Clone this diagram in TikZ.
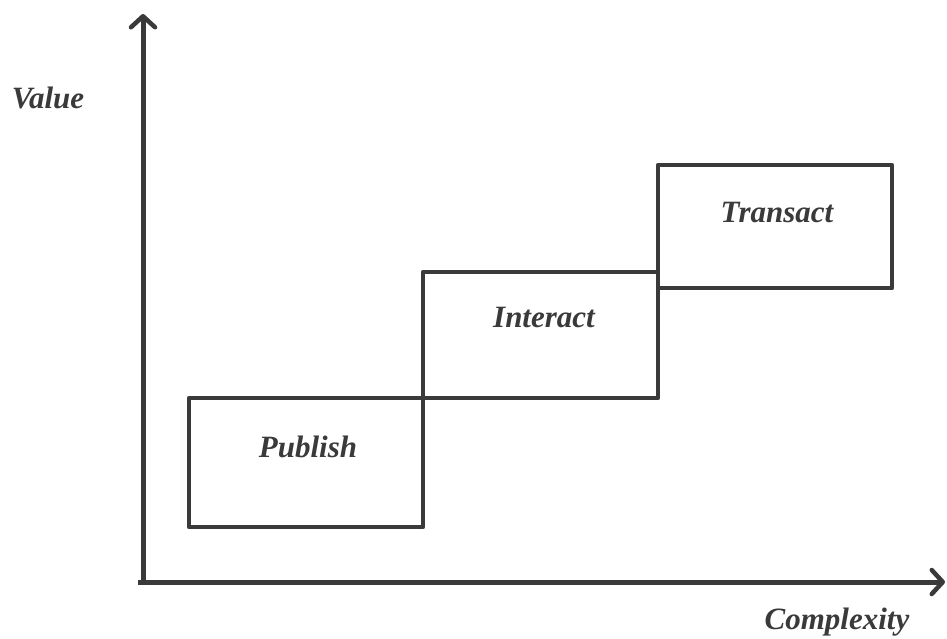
\documentclass[tikz,border=0pt]{standalone}
\usepackage{fontspec}
\setmainfont{Liberation Serif}
\usetikzlibrary{arrows.meta}
\definecolor{ink}{HTML}{3A3A3A}
\tikzset{
  stage/.style={draw=ink, line width=4.5pt, line join=round, inner sep=0pt, anchor=center},
  lbl/.style={text=ink, font=\fontsize{31}{36}\selectfont\bfseries\itshape, anchor=base, inner sep=0pt},
  axis/.style={draw=ink, line width=5pt, -{Straight Barb[length=11pt,width=24pt,line width=4.5pt,round]}}
}
\begin{document}
\begin{tikzpicture}[x=1pt,y=-1pt]
\useasboundingbox (0,0) rectangle (947,638);
\fill[white] (0,0) rectangle (947,638);
\node[stage, minimum width=234pt, minimum height=129pt] (pub) at (306,462.5) {};
\node[stage, minimum width=235pt, minimum height=126pt] (int) at (540.5,335) {};
\node[stage, minimum width=234pt, minimum height=123pt] (tra) at (775,226.5) {};
\node[lbl] (tpub) at (308,457) {Publish};
\node[lbl] (tint) at (544,327) {Interact};
\node[lbl] (ttra) at (777,222) {Transact};
\node[lbl] (tval) at (48,108) {Value};
\node[lbl] (tcom) at (837,629) {Complexity};
\coordinate (o1) at (143,584.5);
\coordinate (ytip) at (143,14);
\coordinate (o2) at (138,582);
\coordinate (xtip) at (945,582);
\draw[axis] (o1) -- (ytip);
\draw[axis] (o2) -- (xtip);
\end{tikzpicture}
\end{document}
